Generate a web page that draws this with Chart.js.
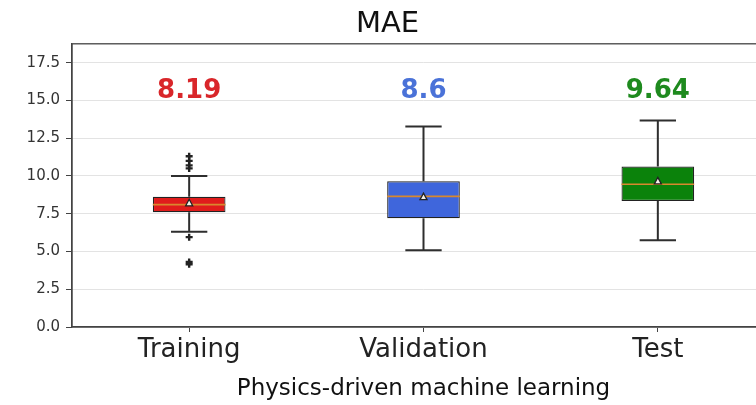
<!DOCTYPE html>
<html>
<head>
<meta charset="utf-8">
<script src="https://cdn.jsdelivr.net/npm/chart.js@4.4.1/dist/chart.umd.min.js"></script>
<style>
  html, body { margin: 0; padding: 0; background: #ffffff; overflow: hidden; }
  #wrap { width: 756px; height: 405px; overflow: hidden; }
  canvas { display: block; }
</style>
</head>
<body>
<div id="wrap"><canvas id="chart" width="790" height="405"></canvas></div>
<script>
// MAE distribution per data split (box plot summary)
const categories = ['Training', 'Validation', 'Test'];
const q1Values = [7.6, 7.2, 8.35];
const q3Values = [8.62, 9.65, 10.63];
const medianValues = [8.1, 8.65, 9.45];
const meanValues = [8.19, 8.6, 9.64];
const whiskerLow = [6.3, 5.08, 5.75];
const whiskerHigh = [10.0, 13.28, 13.68];
const outlierValues = [
  [10.5, 10.7, 11.0, 11.3, 5.95, 4.3, 4.15],
  [],
  []
];
const yTickValues = [0, 2.5, 5, 7.5, 10, 12.5, 15, 17.5];

const boxColors = ['#e01c1c', '#3f66dc', '#0b820b'];
const labelColors = ['#d9262a', '#4a72d8', '#1e8a1e'];
const FONT = "'DejaVu Sans', sans-serif";

// Whiskers, caps, medians, means, fliers and the mean labels above each box
const boxDecor = {
  id: 'boxDecor',
  afterDatasetsDraw(chart) {
    const { ctx, scales: { x, y }, chartArea } = chart;
    const meta = chart.getDatasetMeta(0);
    ctx.save();
    categories.forEach((cat, i) => {
      const bar = meta.data[i];
      const cx = x.getPixelForValue(i);
      const halfBox = bar.width / 2;
      const capHalf = halfBox / 2;
      const pQ1 = y.getPixelForValue(q1Values[i]);
      const pQ3 = y.getPixelForValue(q3Values[i]);
      const pLo = y.getPixelForValue(whiskerLow[i]);
      const pHi = y.getPixelForValue(whiskerHigh[i]);

      // whiskers and caps
      ctx.strokeStyle = '#2e2e2e';
      ctx.lineWidth = 2;
      ctx.beginPath();
      ctx.moveTo(cx, pQ3); ctx.lineTo(cx, pHi);
      ctx.moveTo(cx, pQ1); ctx.lineTo(cx, pLo);
      ctx.moveTo(cx - capHalf, pHi); ctx.lineTo(cx + capHalf, pHi);
      ctx.moveTo(cx - capHalf, pLo); ctx.lineTo(cx + capHalf, pLo);
      ctx.stroke();

      // median
      const pMed = y.getPixelForValue(medianValues[i]);
      ctx.strokeStyle = '#d8882e';
      ctx.lineWidth = 1.6;
      ctx.beginPath();
      ctx.moveTo(cx - halfBox, pMed); ctx.lineTo(cx + halfBox, pMed);
      ctx.stroke();

      // mean marker
      const pMean = y.getPixelForValue(meanValues[i]);
      ctx.fillStyle = '#f4f0e8';
      ctx.strokeStyle = '#222222';
      ctx.lineWidth = 1.3;
      ctx.beginPath();
      ctx.moveTo(cx, pMean - 4);
      ctx.lineTo(cx + 3.5, pMean + 2.5);
      ctx.lineTo(cx - 3.5, pMean + 2.5);
      ctx.closePath();
      ctx.fill();
      ctx.stroke();

      // fliers
      ctx.strokeStyle = '#222222';
      ctx.lineWidth = 2.4;
      outlierValues[i].forEach(v => {
        const py = y.getPixelForValue(v);
        ctx.beginPath();
        ctx.moveTo(cx - 3.5, py); ctx.lineTo(cx + 3.5, py);
        ctx.moveTo(cx, py - 3.5); ctx.lineTo(cx, py + 3.5);
        ctx.stroke();
      });

      // mean value label
      ctx.fillStyle = labelColors[i];
      ctx.font = 'bold 26px ' + FONT;
      ctx.textAlign = 'center';
      ctx.textBaseline = 'middle';
      ctx.fillText(String(meanValues[i]), cx, y.getPixelForValue(15.6));
    });

    // plot frame
    ctx.strokeStyle = '#444444';
    ctx.lineWidth = 1.3;
    ctx.strokeRect(chartArea.left, chartArea.top,
      chartArea.right - chartArea.left, chartArea.bottom - chartArea.top);
    ctx.restore();
  }
};

new Chart(document.getElementById('chart'), {
  type: 'bar',
  data: {
    labels: categories,
    datasets: [{
      label: 'MAE',
      data: q1Values.map((v, i) => [v, q3Values[i]]),
      backgroundColor: boxColors,
      borderColor: '#222222',
      borderWidth: 1.2,
      borderSkipped: false,
      barPercentage: 0.31,
      categoryPercentage: 1
    }]
  },
  options: {
    responsive: false,
    animation: false,
    layout: { padding: { left: 0, right: 15, top: 0, bottom: 0 } },
    plugins: {
      legend: { display: false },
      tooltip: { enabled: false },
      title: {
        display: true,
        text: 'MAE',
        color: '#111111',
        font: { family: FONT, size: 29, weight: 'normal' },
        padding: { top: 7, bottom: 2 }
      }
    },
    scales: {
      x: {
        grid: { display: true, offset: false, drawOnChartArea: false, tickLength: 5, tickColor: '#444444' },
        border: { display: true, color: '#444444', width: 1.3 },
        ticks: {
          color: '#222222',
          font: { family: FONT, size: 26 },
          padding: 3
        },
        title: {
          display: true,
          text: 'Physics-driven machine learning',
          color: '#111111',
          font: { family: FONT, size: 23 },
          padding: { top: 0, bottom: 2 }
        },
        afterFit(scale) { scale.height = 78; }
      },
      y: {
        min: 0,
        max: 18.75,
        afterBuildTicks(scale) {
          scale.ticks = yTickValues.map(v => ({ value: v }));
        },
        grid: { color: '#e3e3e3', lineWidth: 1, tickLength: 6, tickColor: '#444444' },
        border: { display: true, color: '#444444', width: 1.3 },
        ticks: {
          color: '#333333',
          font: { family: FONT, size: 15 },
          padding: 6,
          callback: v => Number(v).toFixed(1)
        },
        afterFit(scale) { scale.width = 72; }
      }
    }
  },
  plugins: [boxDecor]
});
</script>
</body>
</html>
